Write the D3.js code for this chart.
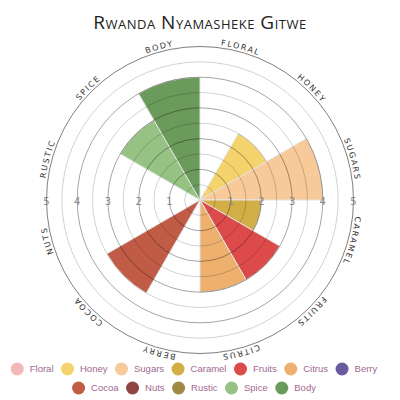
<!DOCTYPE html>
<html>
<head>
<meta charset="utf-8">
<script src="https://cdn.jsdelivr.net/npm/d3@7"></script>
<style>
  body { margin: 0; background: #fff; }
  svg { display: block; }
</style>
</head>
<body>
<svg width="400" height="400"></svg>
<script>
"use strict";

// flavour wheel data
var categories = ["Floral", "Honey", "Sugars", "Caramel", "Fruits", "Citrus",
                  "Berry", "Cocoa", "Nuts", "Rustic", "Spice", "Body"];
var scores = [0, 2.5, 4, 2, 3, 3, 0, 3.5, 0, 0, 3, 4];
var colors = ["#f3b8b8", "#f4d26c", "#f8c999", "#d3ae46", "#dc4a4a", "#eeb06f",
              "#6a5a9e", "#c05b46", "#8f4545", "#a08943", "#96c384", "#6b9b5a"];
var ticks = [1, 2, 3, 4, 5];
var title = "Rwanda Nyamasheke Gitwe";

var svg = d3.select("svg"),
    width = +svg.attr("width"),
    cx = 200, cy = 200;

var r = d3.scaleLinear().domain([0, 5]).range([0, 153.5]);
var step = 2 * Math.PI / categories.length;

svg.append("text")
    .attr("x", width / 2)
    .attr("y", 29)
    .attr("text-anchor", "middle")
    .style("font-family", "'Open Sans'")
    .style("font-size", "19px")
    .style("font-variant", "small-caps")
    .style("letter-spacing", "0.5px")
    .style("fill", "#222")
    .text(title);

var g = svg.append("g").attr("transform", "translate(" + cx + "," + cy + ")");

var arc = d3.arc()
    .innerRadius(0)
    .outerRadius(function(d) { return r(d.value); })
    .startAngle(function(d) { return d.i * step; })
    .endAngle(function(d) { return (d.i + 1) * step; });

var data = categories.map(function(c, i) {
  return {name: c, value: scores[i], color: colors[i], i: i};
});

g.append("g").attr("class", "slices")
  .selectAll("path")
  .data(data.filter(function(d) { return d.value > 0; }))
  .enter().append("path")
    .attr("d", arc)
    .attr("fill", function(d) { return d.color; })
    .attr("stroke", "#e4e4e4")
    .attr("stroke-width", 1);

// grid circles on top so they darken over the slices
var rings = d3.range(1, 11).map(function(k) { return k / 2; });
g.append("g").attr("class", "grid")
  .selectAll("circle")
  .data(rings)
  .enter().append("circle")
    .attr("r", function(d) { return r(d); })
    .attr("fill", "none")
    .attr("stroke", "#000")
    .attr("stroke-opacity", function(d) {
      if (d === 5) return 0.5;
      return d % 1 === 0 ? 0.35 : 0.18;
    })
    .attr("stroke-width", 1);

// tick labels on both sides
var tickG = g.append("g").attr("class", "ticks")
    .style("font-family", "'DejaVu Sans'")
    .style("font-size", "10px")
    .style("fill", "#888")
    .attr("text-anchor", "middle");
[1, -1].forEach(function(side) {
  tickG.selectAll("text.s" + side)
    .data(ticks)
    .enter().append("text")
      .attr("x", function(d) { return side * r(d); })
      .attr("y", 5)
      .text(function(d) { return d; });
});

// category labels along a circle
var R = 156;
g.append("path")
    .attr("id", "labelPath")
    .attr("d", "M0," + (-R) + " A" + R + "," + R + " 0 1 1 0," + R +
               " A" + R + "," + R + " 0 1 1 0," + (-R))
    .attr("fill", "none");

g.append("g").attr("class", "labels")
  .selectAll("text")
  .data(data)
  .enter().append("text")
    .style("font-family", "'DejaVu Sans'")
    .style("font-size", "8px")
    .style("letter-spacing", "1.6px")
    .style("fill", "#333")
  .append("textPath")
    .attr("href", "#labelPath")
    .attr("startOffset", function(d) { return ((d.i + 0.5) * step * R); })
    .attr("text-anchor", "middle")
    .text(function(d) { return d.name.toUpperCase(); });

// legend, two centred rows
var rows = [categories.slice(0, 7), categories.slice(7)];
var rowY = [369, 388];
rows.forEach(function(row, ri) {
  var lg = svg.append("g").attr("class", "legend");
  var items = lg.selectAll("g")
    .data(row)
    .enter().append("g");
  items.append("circle")
    .attr("r", 6.5)
    .attr("fill", function(d) { return colors[categories.indexOf(d)]; });
  items.append("text")
    .attr("x", 12.5)
    .attr("y", 3.3)
    .style("font-family", "'Liberation Sans'")
    .style("font-size", "9.5px")
    .style("fill", "#a3668f")
    .text(function(d) { return d; });
  var x = 0, lastEnd = 0;
  items.each(function() {
    var w = d3.select(this).select("text").node().getComputedTextLength();
    d3.select(this).attr("transform", "translate(" + (x + 6.5) + "," + rowY[ri] + ")");
    lastEnd = x + 19 + w;
    x = lastEnd + 7.5;
  });
  var offset = 194 - lastEnd / 2;
  lg.attr("transform", "translate(" + offset + ",0)");
});
</script>
</body>
</html>
